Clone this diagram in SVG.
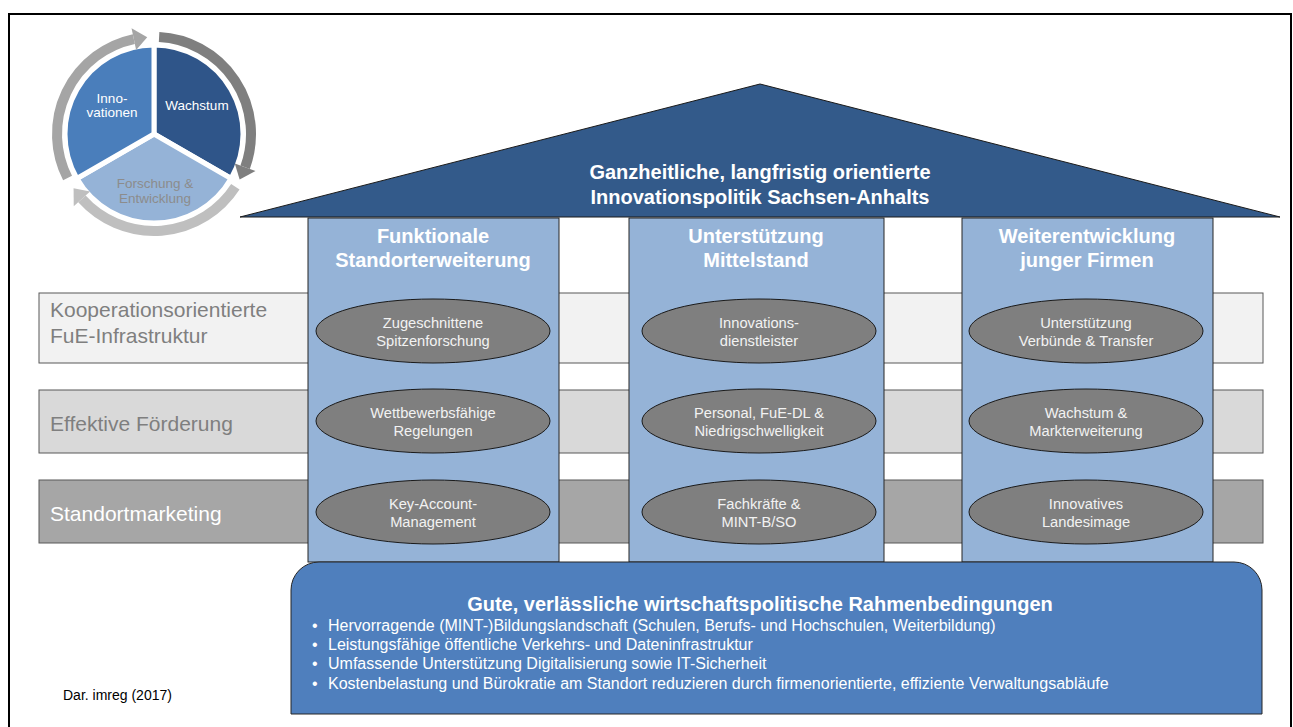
<svg xmlns="http://www.w3.org/2000/svg" width="1293" height="727" viewBox="0 0 1293 727">
<style>
text{font-family:"Liberation Sans",Arial,sans-serif}
.bar{stroke:#595959;stroke-width:1}
.pillar{fill:#95B3D7;stroke:#262626;stroke-width:1}
.ell{fill:#7F7F7F;stroke:#1A1A1A;stroke-width:1}
.et{fill:#F2F2F2;font-size:14.7px;text-anchor:middle}
.pt{fill:#FFFFFF;font-size:20px;font-weight:bold;text-anchor:middle}
.bt{font-size:21px}
.bul{fill:#FFFFFF;font-size:16px}
.ring{fill:none;stroke-width:10}
</style>
<rect x="9" y="14" width="1282" height="725" fill="#FFFFFF" stroke="#000000" stroke-width="2"/>

<g id="cycle">
  <path d="M154,134 L154,45 A89,89 0 0,1 231.08,178.5 Z" fill="#2F5589" stroke="#FFFFFF" stroke-width="5"/>
  <path d="M154,134 L231.08,178.5 A89,89 0 0,1 76.92,178.5 Z" fill="#95B3D7" stroke="#FFFFFF" stroke-width="5"/>
  <path d="M154,134 L76.92,178.5 A89,89 0 0,1 154,45 Z" fill="#4A7EBB" stroke="#FFFFFF" stroke-width="5"/>
  <path class="ring" d="M159.1,37.1 A97,97 0 0,1 245.15,167.18" stroke="#7F7F7F"/>
  <polygon points="234.81,163.41 255.49,170.94 239.65,179.54" fill="#7F7F7F"/>
  <path class="ring" d="M235.35,186.83 A97,97 0 0,1 81.92,198.91" stroke="#BFBFBF"/>
  <polygon points="90.09,191.55 73.74,206.27 73.58,188.24" fill="#BFBFBF"/>
  <path class="ring" d="M67.57,178.04 A97,97 0 0,1 133.83,39.12" stroke="#A5A5A5"/>
  <polygon points="136.12,49.88 131.55,28.36 147.23,37.24" fill="#A5A5A5"/>
  <text x="197" y="110" fill="#FFFFFF" font-size="13.5" text-anchor="middle">Wachstum</text>
  <text x="112" y="103" fill="#FFFFFF" font-size="13.5" text-anchor="middle">Inno-</text>
  <text x="112" y="117" fill="#FFFFFF" font-size="13.5" text-anchor="middle">vationen</text>
  <text x="155" y="188" fill="#8C8C8C" font-size="13.5" text-anchor="middle">Forschung &amp;</text>
  <text x="155" y="203" fill="#8C8C8C" font-size="13.5" text-anchor="middle">Entwicklung</text>
</g>

<g id="bar-kooperation">
  <rect class="bar" x="39" y="293" width="1224" height="70" fill="#F2F2F2"/>
  <text class="bt" x="50" y="317" fill="#7F7F7F">Kooperationsorientierte</text>
  <text class="bt" x="50" y="343" fill="#7F7F7F">FuE-Infrastruktur</text>
</g>
<g id="bar-foerderung">
  <rect class="bar" x="39" y="390" width="1224" height="63" fill="#D9D9D9"/>
  <text class="bt" x="50" y="431" fill="#7F7F7F">Effektive Förderung</text>
</g>
<g id="bar-marketing">
  <rect class="bar" x="39" y="480" width="1224" height="63" fill="#A6A6A6"/>
  <text class="bt" x="50" y="521" fill="#FFFFFF">Standortmarketing</text>
</g>

<g id="pillar-1">
  <rect class="pillar" x="308" y="218" width="251" height="344"/>
  <text class="pt" x="433" y="243">Funktionale</text>
  <text class="pt" x="433" y="267">Standorterweiterung</text>
  <ellipse class="ell" cx="433" cy="331" rx="117" ry="32"/>
  <text class="et" x="433" y="327.5">Zugeschnittene</text>
  <text class="et" x="433" y="345.5">Spitzenforschung</text>
  <ellipse class="ell" cx="433" cy="421" rx="117" ry="32"/>
  <text class="et" x="433" y="417.5">Wettbewerbsfähige</text>
  <text class="et" x="433" y="435.5">Regelungen</text>
  <ellipse class="ell" cx="433" cy="512" rx="117" ry="32"/>
  <text class="et" x="433" y="508.5">Key-Account-</text>
  <text class="et" x="433" y="526.5">Management</text>
</g>
<g id="pillar-2">
  <rect class="pillar" x="629" y="218" width="255" height="344"/>
  <text class="pt" x="756" y="243">Unterstützung</text>
  <text class="pt" x="756" y="267">Mittelstand</text>
  <ellipse class="ell" cx="759" cy="331" rx="117" ry="32"/>
  <text class="et" x="759" y="327.5">Innovations-</text>
  <text class="et" x="759" y="345.5">dienstleister</text>
  <ellipse class="ell" cx="759" cy="421" rx="117" ry="32"/>
  <text class="et" x="759" y="417.5">Personal, FuE-DL &amp;</text>
  <text class="et" x="759" y="435.5">Niedrigschwelligkeit</text>
  <ellipse class="ell" cx="759" cy="512" rx="117" ry="32"/>
  <text class="et" x="759" y="508.5">Fachkräfte &amp;</text>
  <text class="et" x="759" y="526.5">MINT-B/SO</text>
</g>
<g id="pillar-3">
  <rect class="pillar" x="962" y="218" width="251" height="344"/>
  <text class="pt" x="1087" y="243">Weiterentwicklung</text>
  <text class="pt" x="1087" y="267">junger Firmen</text>
  <ellipse class="ell" cx="1086" cy="331" rx="117" ry="32"/>
  <text class="et" x="1086" y="327.5">Unterstützung</text>
  <text class="et" x="1086" y="345.5">Verbünde &amp; Transfer</text>
  <ellipse class="ell" cx="1086" cy="421" rx="117" ry="32"/>
  <text class="et" x="1086" y="417.5">Wachstum &amp;</text>
  <text class="et" x="1086" y="435.5">Markterweiterung</text>
  <ellipse class="ell" cx="1086" cy="512" rx="117" ry="32"/>
  <text class="et" x="1086" y="508.5">Innovatives</text>
  <text class="et" x="1086" y="526.5">Landesimage</text>
</g>

<g id="roof">
  <polygon points="760,84 1280,217 240,217" fill="#335A8A" stroke="#1A1A1A" stroke-width="1"/>
  <text class="pt" x="760" y="179">Ganzheitliche, langfristig orientierte</text>
  <text class="pt" x="760" y="204">Innovationspolitik Sachsen-Anhalts</text>
</g>

<g id="foundation">
  <path d="M291,714 L291,590 A28,28 0 0,1 319,562 L1234,562 A28,28 0 0,1 1262,590 L1262,714 Z" fill="#4F7FBD" stroke="#262626" stroke-width="1"/>
  <text class="pt" x="760" y="611">Gute, verlässliche wirtschaftspolitische Rahmenbedingungen</text>
  <text class="bul" x="312" y="631">•</text>
  <text class="bul" x="328" y="631">Hervorragende (MINT-)Bildungslandschaft (Schulen, Berufs- und Hochschulen, Weiterbildung)</text>
  <text class="bul" x="312" y="650">•</text>
  <text class="bul" x="328" y="650">Leistungsfähige öffentliche Verkehrs- und Dateninfrastruktur</text>
  <text class="bul" x="312" y="669">•</text>
  <text class="bul" x="328" y="669">Umfassende Unterstützung Digitalisierung sowie IT-Sicherheit</text>
  <text class="bul" x="312" y="689">•</text>
  <text class="bul" x="328" y="689">Kostenbelastung und Bürokratie am Standort reduzieren durch firmenorientierte, effiziente Verwaltungsabläufe</text>
</g>

<text id="source" x="63" y="700" fill="#000000" font-size="14">Dar. imreg (2017)</text>
</svg>
